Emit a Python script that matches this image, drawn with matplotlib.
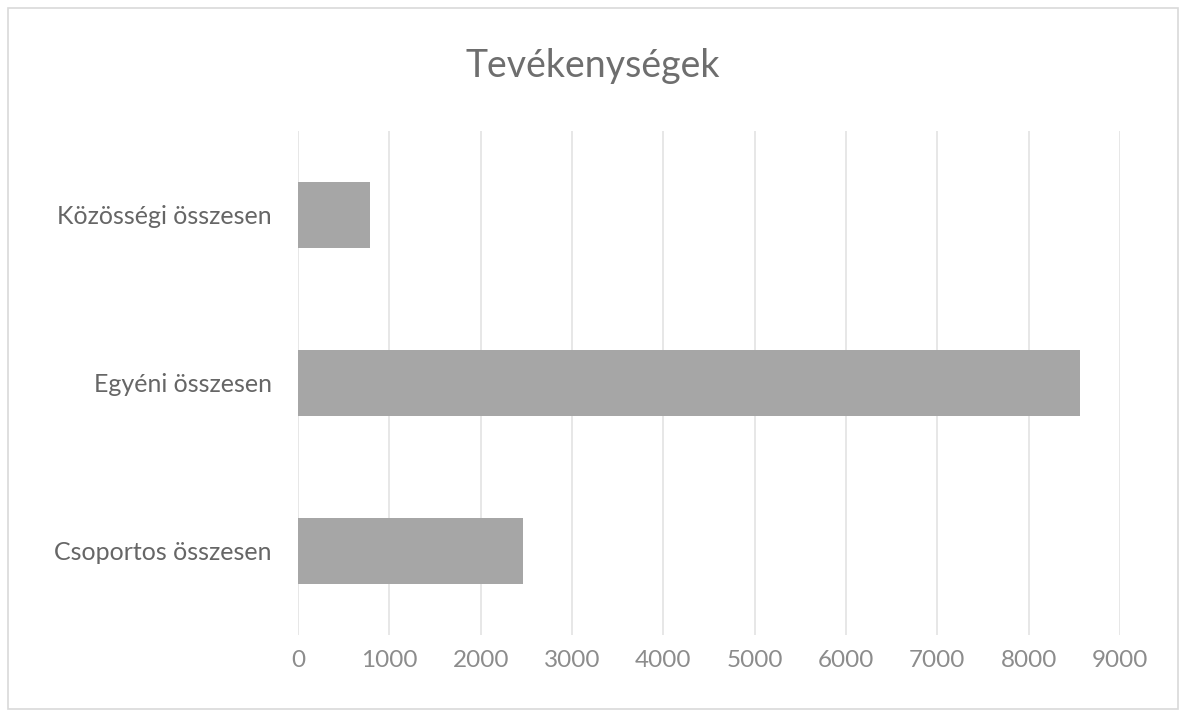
import matplotlib
matplotlib.use("Agg")
import matplotlib.pyplot as plt
from matplotlib.patches import Rectangle

categories = ["Csoportos összesen", "Egyéni összesen", "Közösségi összesen"]
values = [2460, 8565, 785]
xticks = [0, 1000, 2000, 3000, 4000, 5000, 6000, 7000, 8000, 9000]
title = "Tevékenységek"

plt.rcParams['font.family'] = ['Lato', 'DejaVu Sans']

W, H = 1186, 717
fig = plt.figure(figsize=(W / 100, H / 100), dpi=100)
fig.patch.set_facecolor("white")

# outer frame
fig.patches.append(Rectangle((8 / W, 8 / H), (W - 16) / W, (H - 16) / H,
                             transform=fig.transFigure, fill=False,
                             edgecolor="#d9d9d9", linewidth=1.2))

left, right = 298 / W, 1120 / W
top, bottom = 131 / H, 635 / H
ax = fig.add_axes([left, 1 - bottom, right - left, bottom - top])

ax.barh(range(len(categories)), values, height=0.39, color="#a6a6a6", zorder=3)
ax.set_xlim(0, 9000)
ax.set_ylim(-0.5, len(categories) - 0.5)
ax.set_xticks(xticks)
ax.set_xticklabels([str(t) for t in xticks], fontsize=17.5, color="#8c8c8c")
ax.set_yticks(range(len(categories)))
ax.set_yticklabels(categories, fontsize=18, color="#666666")
ax.tick_params(axis="both", length=0)
ax.tick_params(axis="x", pad=11)
ax.tick_params(axis="y", pad=19)
ax.grid(axis="x", color="#e3e3e3", linewidth=1.2, zorder=0)
for s in ax.spines.values():
    s.set_visible(False)

fig.text(0.5, 1 - 66 / H, title, ha="center", va="center", fontsize=27, color="#6e6e6e")

fig.savefig("out.png", dpi=100, facecolor="white")
